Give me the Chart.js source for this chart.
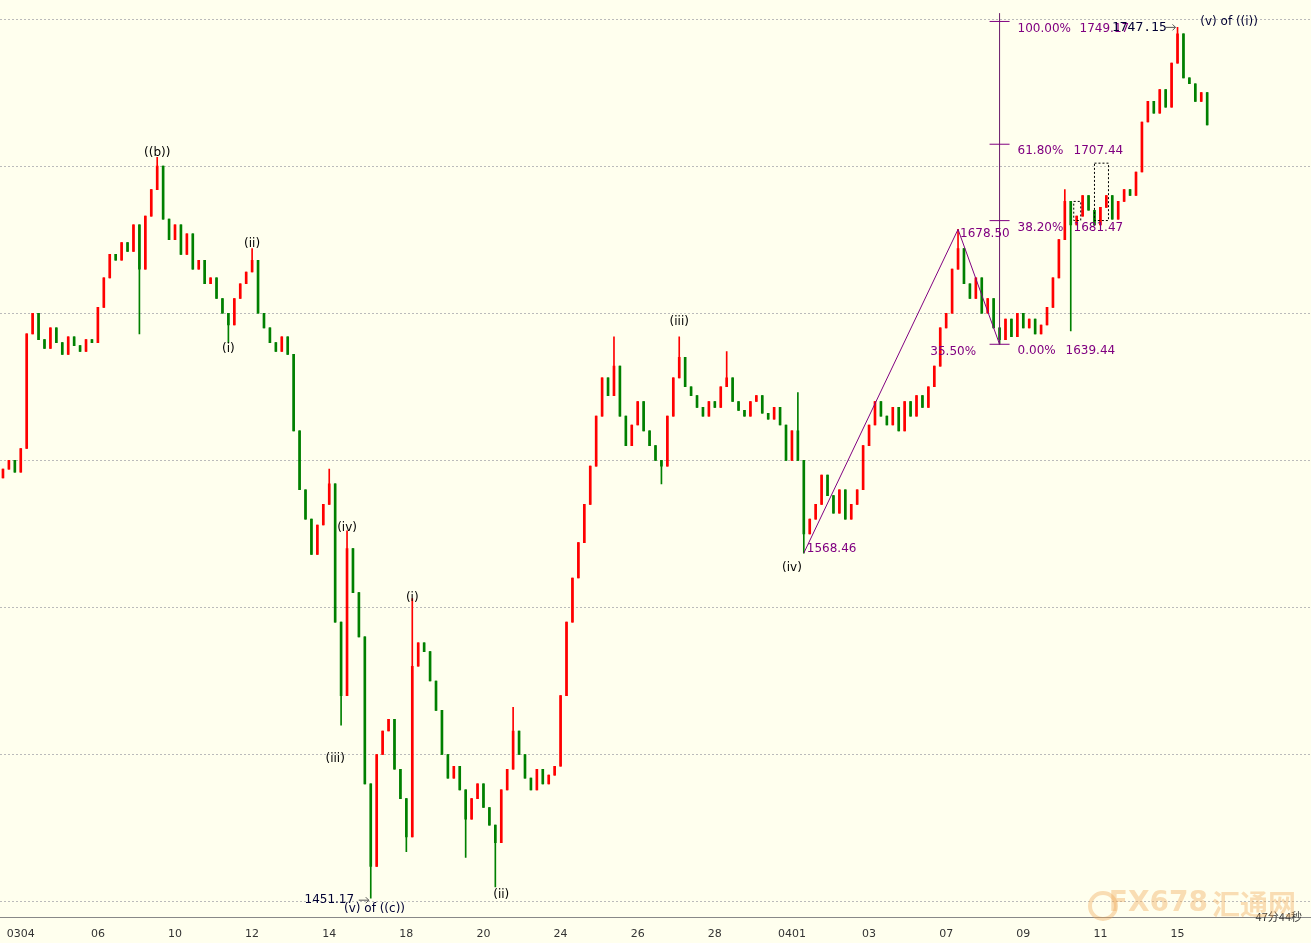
<!DOCTYPE html>
<html><head><meta charset="utf-8">
<script src="https://cdn.jsdelivr.net/npm/chart.js@4"></script>
<style>html,body{margin:0;padding:0;background:#FFFFEE;}#w{width:1311px;height:943px;}</style>
</head><body><div id="w"><canvas id="c"></canvas></div>
<script>
const closes = [1597,1600,1596,1604,1643,1650,1641,1638,1645,1640,1636,1642,1639,1637,1641,1640,
1652,1662,1670,1668,1674,1671,1680,1665,1683,1692,1700,1682,1675,1680,1670,1677,1665,1668,1660,1662,1655,1650,1646,1655,1660,1664,1668,
1650,1645,1640,1637,1642,1636,1610,1590,1580,1568,1578,1585,1592,1545,1520,1570,1555,1540,1490,1462,1500,1508,1512,1495,1485,1472,
1530,1538,1535,1525,1515,1500,1492,1496,1488,1478,1485,1490,1482,1476,1470,1488,1495,1508,1500,1492,1488,1495,1490,1493,1496,
1520,1545,1560,1572,1585,1598,1615,1628,1622,1632,1615,1605,1612,1620,1610,1605,1600,1598,1615,1628,1635,1625,1622,1618,1615,1620,
1618,1625,1628,1620,1617,1615,1620,1622,1616,1614,1618,1612,1600,1610,1600,1575,1580,1585,1595,1588,1582,1590,1580,1585,1590,
1605,1612,1620,1615,1612,1618,1610,1620,1615,1622,1618,1625,1632,1645,1650,1665,1672,1660,1655,1662,1650,1655,1645,1641,
1648,1642,1650,1645,1648,1643,1646,1652,1662,1675,1688,1680,1683,1690,1685,1680,1686,1690,1682,1688,1692,1690,1698,
1715,1722,1718,1726,1720,1735,1745,1730,1728,1722,1725,1714];
const highs = {26:1703,42:1672,55:1597,58:1576,69:1553,86:1516,103:1642,114:1642,122:1637,134:1623,161:1678.5,179:1692,198:1747.15};
const lows = {23:1643,38:1640,57:1510,62:1451.17,68:1467,78:1465,83:1455,111:1592,135:1568.46,168:1639.44,180:1644};
const tickLabels = {3:'0304',16:'06',29:'10',42:'12',55:'14',68:'18',81:'20',94:'24',107:'26',120:'28',133:'0401',146:'03',159:'07',172:'09',185:'11',198:'15'};
const gridPrices = [1450,1500,1550,1600,1650,1700,1750];
const fibLevels = [[1749.17,'100.00%','1749.17'],[1707.44,'61.80%','1707.44'],[1681.47,'38.20%','1681.47'],[1639.44,'0.00%','1639.44']];
const zigzag = [[135,1568.46],[161,1678.5],[168,1639.44]];
const waveLabels = [[26,1704.6,'((b))'],[42,1673.6,'(ii)'],[38,1637.8,'(i)'],[58,1577,'(iv)'],[56,1498.6,'(iii)'],[69,1553.3,'(i)'],[84,1452.4,'(ii)'],[114,1647,'(iii)'],[133,1563.5,'(iv)']];

const N = 221;
const labels = Array.from({length:N},(_,i)=>i);
const opens = closes.map((c,i)=> i===0 ? 1594 : closes[i-1]);
const body = closes.map((c,i)=>[opens[i], c===opens[i]? c+0.4 : c]);
const wick = closes.map((c,i)=>[lows[i] ?? Math.min(opens[i],c), highs[i] ?? Math.max(opens[i],c)]);
const cols = closes.map((c,i)=> c>=opens[i] ? '#FF0000' : '#008000');

const annot = {
 id:'annot',
 afterDatasetsDraw(ch){
  const {ctx, scales:{x,y}} = ch;
  const X=v=>x.getPixelForValue(v), Y=v=>y.getPixelForValue(v);
  ctx.save();
  ctx.strokeStyle='#800080'; ctx.lineWidth=1; ctx.beginPath();
  zigzag.forEach((p,k)=>{k?ctx.lineTo(X(p[0]),Y(p[1])):ctx.moveTo(X(p[0]),Y(p[1]));}); ctx.stroke();
  const fx = X(168);
  ctx.strokeStyle='#6a1a6a';
  ctx.beginPath(); ctx.moveTo(fx,Y(1752)); ctx.lineTo(fx,Y(1639.44)); ctx.stroke();
  ctx.strokeStyle='#800080';
  ctx.font='12px "DejaVu Sans"'; ctx.fillStyle='#800080'; ctx.textBaseline='middle';
  fibLevels.forEach(f=>{
    ctx.beginPath(); ctx.moveTo(fx-10,Y(f[0])); ctx.lineTo(fx+10,Y(f[0])); ctx.stroke();
    const ty = Y(f[0]) + 7;
    ctx.fillText(f[1], fx+18, ty);
    ctx.fillText(f[2], fx+(f[1]==='100.00%'?80:(f[1]==='0.00%'?66:74)), ty);
  });
  ctx.fillText('35.50%', X(157)-4, Y(1639.44)+8);
  ctx.fillText('1678.50', X(161)+2, Y(1678.5)+5);
  ctx.fillText('1568.46', X(135)+3, Y(1568.46)-4);
  ctx.strokeStyle='#000'; ctx.setLineDash([2,2]);
  ctx.strokeRect(X(180)+3, Y(1688), 7, Y(1681.5)-Y(1688));
  ctx.strokeRect(X(184), Y(1701), 14, Y(1681.5)-Y(1701));
  ctx.setLineDash([]);
  ctx.fillStyle='#000'; ctx.textAlign='center';
  waveLabels.forEach(w=>ctx.fillText(w[2], X(w[0]), Y(w[1])));
  ctx.textAlign='left';
  ctx.fillStyle='#000033';
  ctx.fillText('1451.17', X(51)-1, Y(1451.17)+2);
  ctx.fillText('(v) of ((c))', X(58)-3, Y(1451.17)+11);
  ctx.font='13px "DejaVu Sans Mono"';
  ctx.fillText('1747.15', X(192)-30, Y(1747.15));
  ctx.font='12px "DejaVu Sans"';
  ctx.fillText('(v) of ((i))', X(202)-1, Y(1749.5)+1);
  ctx.strokeStyle='#555';
  [[62,1451.17,-2],[198,1747.15,-2]].forEach(a=>{
    const ax=X(a[0])+a[2], ay=Y(a[1])+(a[0]===62?2:0);
    ctx.beginPath(); ctx.moveTo(ax-10,ay); ctx.lineTo(ax,ay); ctx.moveTo(ax-3,ay-3); ctx.lineTo(ax,ay); ctx.lineTo(ax-3,ay+3); ctx.stroke();
  });
  ctx.font='11px "Noto Sans CJK SC"'; ctx.fillStyle='#333'; ctx.textAlign='right';
  ctx.fillText('47分44秒', 1302, 917);
  ctx.font='bold 28px "DejaVu Sans"'; ctx.fillStyle='rgba(240,170,90,0.4)';
  ctx.fillText('FX678', 1208, 904);
  ctx.font='bold 28px "Noto Sans CJK SC"';
  ctx.fillText('汇通网', 1296, 904);
  ctx.beginPath(); ctx.arc(1103,906,13,0,Math.PI*2); ctx.strokeStyle='rgba(240,170,90,0.4)'; ctx.lineWidth=4; ctx.stroke();
  ctx.restore();
 }
};

new Chart(document.getElementById('c'),{
 type:'bar',
 data:{labels, datasets:[
  {data:wick, backgroundColor:cols, barThickness:1, grouped:false},
  {data:body, backgroundColor:cols, barThickness:2, grouped:false}
 ]},
 options:{
  responsive:true, maintainAspectRatio:false, animation:false,
  layout:{padding:0},
  plugins:{legend:{display:false}, tooltip:{enabled:false}},
  scales:{
   x:{grid:{display:false}, border:{color:'#888'},
      ticks:{autoSkip:false, maxRotation:0, color:'#333', font:{size:11,family:'DejaVu Sans'}, padding:2,
             callback:(v)=>tickLabels[v]||''}},
   y:{min:1444.5, max:1756.46, position:'right',
      afterBuildTicks:(s)=>{s.ticks=gridPrices.map(v=>({value:v}));},
      ticks:{display:false}, border:{display:false, dash:[2,2]},
      grid:{color:'#BBBBBB', lineWidth:1, tickLength:0}}
  }
 },
 plugins:[annot]
});
</script></body></html>
